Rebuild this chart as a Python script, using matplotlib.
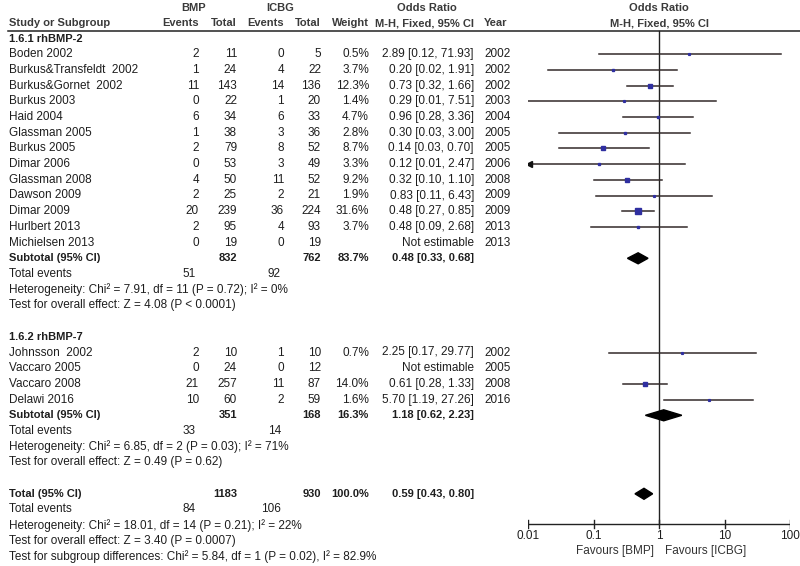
import matplotlib
matplotlib.use("Agg")
import matplotlib.pyplot as plt
import numpy as np

plt.rcParams['font.family'] = ['Liberation Sans', 'DejaVu Sans']

# ---- data ----
g1_names = ["Boden 2002", "Burkus&Transfeldt  2002", "Burkus&Gornet  2002", "Burkus 2003",
            "Haid 2004", "Glassman 2005", "Burkus 2005", "Dimar 2006", "Glassman 2008",
            "Dawson 2009", "Dimar 2009", "Hurlbert 2013", "Michielsen 2013"]
g1_ev_bmp = [2, 1, 11, 0, 6, 1, 2, 0, 4, 2, 20, 2, 0]
g1_tot_bmp = [11, 24, 143, 22, 34, 38, 79, 53, 50, 25, 239, 95, 19]
g1_ev_icbg = [0, 4, 14, 1, 6, 3, 8, 3, 11, 2, 36, 4, 0]
g1_tot_icbg = [5, 22, 136, 20, 33, 36, 52, 49, 52, 21, 224, 93, 19]
g1_weight = [0.5, 3.7, 12.3, 1.4, 4.7, 2.8, 8.7, 3.3, 9.2, 1.9, 31.6, 3.7, None]
g1_or = [2.89, 0.20, 0.73, 0.29, 0.96, 0.30, 0.14, 0.12, 0.32, 0.83, 0.48, 0.48, None]
g1_lo = [0.12, 0.02, 0.32, 0.01, 0.28, 0.03, 0.03, 0.01, 0.10, 0.11, 0.27, 0.09, None]
g1_hi = [71.93, 1.91, 1.66, 7.51, 3.36, 3.00, 0.70, 2.47, 1.10, 6.43, 0.85, 2.68, None]
g1_year = [2002, 2002, 2002, 2003, 2004, 2005, 2005, 2006, 2008, 2009, 2009, 2013, 2013]

g2_names = ["Johnsson  2002", "Vaccaro 2005", "Vaccaro 2008", "Delawi 2016"]
g2_ev_bmp = [2, 0, 21, 10]
g2_tot_bmp = [10, 24, 257, 60]
g2_ev_icbg = [1, 0, 11, 2]
g2_tot_icbg = [10, 12, 87, 59]
g2_weight = [0.7, None, 14.0, 1.6]
g2_or = [2.25, None, 0.61, 5.70]
g2_lo = [0.17, None, 0.28, 1.19]
g2_hi = [29.77, None, 1.33, 27.26]
g2_year = [2002, 2005, 2008, 2016]

# studies whose CI runs past the left end of the axis
off_scale_left = ["Dimar 2006"]

sub1 = dict(tot_bmp=832, tot_icbg=762, weight=83.7, est=0.48, lo=0.33, hi=0.68, ev_bmp=51, ev_icbg=92,
            het="Heterogeneity: Chi\u00b2 = 7.91, df = 11 (P = 0.72); I\u00b2 = 0%",
            test="Test for overall effect: Z = 4.08 (P < 0.0001)")
sub2 = dict(tot_bmp=351, tot_icbg=168, weight=16.3, est=1.18, lo=0.62, hi=2.23, ev_bmp=33, ev_icbg=14,
            het="Heterogeneity: Chi\u00b2 = 6.85, df = 2 (P = 0.03); I\u00b2 = 71%",
            test="Test for overall effect: Z = 0.49 (P = 0.62)")
total = dict(tot_bmp=1183, tot_icbg=930, weight=100.0, est=0.59, lo=0.43, hi=0.80, ev_bmp=84, ev_icbg=106,
             het="Heterogeneity: Chi\u00b2 = 18.01, df = 14 (P = 0.21); I\u00b2 = 22%",
             test="Test for overall effect: Z = 3.40 (P = 0.0007)")
subgroup_test = "Test for subgroup differences: Chi\u00b2 = 5.84, df = 1 (P = 0.02), I\u00b2 = 82.9%"

xticks = [0.01, 0.1, 1, 10, 100]
xtick_labels = ["0.01", "0.1", "1", "10", "100"]

# ---- layout (pixels) ----
W, H = 800, 566
Y0, DY = 38.5, 15.7
FS = 8.5
FSB = 8.0
TXT = "#1e1e1e"
HDR = "#3a3a3a"
X_NAME, X_EV1, X_TOT1, X_EV2, X_TOT2, X_W, X_OR, X_YEAR = 9, 199, 237, 284, 321, 369, 474, 484

def ry(i):
    return Y0 + i * DY

fig = plt.figure(figsize=(W / 100, H / 100), dpi=100)
ax = fig.add_axes([0, 0, 1, 1])
ax.set_xlim(0, W)
ax.set_ylim(H, 0)
ax.axis("off")

fp = fig.add_axes([528 / W, 0, (790 - 528) / W, 1])
fp.set_xscale("log")
fp.set_xlim(0.01, 100)
fp.set_ylim(H, 0)
fp.axis("off")


def t(x, y, s, ha="left", bold=False, color=TXT):
    ax.text(x, y, s, ha=ha, va="center", fontsize=FSB if bold else FS,
            fontweight="bold" if bold else "normal", color=color)


# header
t(194, 8, "BMP", ha="center", bold=True, color=HDR)
t(280, 8, "ICBG", ha="center", bold=True, color=HDR)
t(427, 8, "Odds Ratio", ha="center", bold=True, color=HDR)
fp.text(1, 8, "Odds Ratio", ha="center", va="center", fontsize=FSB, fontweight="bold", color=HDR)
t(X_NAME, 23, "Study or Subgroup", bold=True, color=HDR)
t(X_EV1, 23, "Events", ha="right", bold=True, color=HDR)
t(X_TOT1, 23, "Total", ha="right", bold=True, color=HDR)
t(X_EV2, 23, "Events", ha="right", bold=True, color=HDR)
t(X_TOT2, 23, "Total", ha="right", bold=True, color=HDR)
t(X_W, 23, "Weight", ha="right", bold=True, color=HDR)
t(X_OR, 23, "M-H, Fixed, 95% CI", ha="right", bold=True, color=HDR)
t(X_YEAR, 23, "Year", bold=True, color=HDR)
fp.text(1, 23, "M-H, Fixed, 95% CI", ha="center", va="center", fontsize=FSB, fontweight="bold", color=HDR)
ax.plot([8, 800], [31, 31], color="#222222", lw=1.1)


def study_rows(start, names, eb, tb, ei, ti, wts, ors, los, his, years):
    for k, name in enumerate(names):
        y = ry(start + k)
        t(X_NAME, y, name)
        t(X_EV1, y, str(eb[k]), ha="right")
        t(X_TOT1, y, str(tb[k]), ha="right")
        t(X_EV2, y, str(ei[k]), ha="right")
        t(X_TOT2, y, str(ti[k]), ha="right")
        t(X_YEAR, y, str(years[k]))
        if ors[k] is None:
            t(X_OR, y, "Not estimable", ha="right")
            continue
        t(X_W, y, f"{wts[k]:.1f}%", ha="right")
        t(X_OR, y, f"{ors[k]:.2f} [{los[k]:.2f}, {his[k]:.2f}]", ha="right")
        fp.plot([los[k], his[k]], [y, y], color="#332a2a", lw=1.1, zorder=2)
        side_px = max(1.8, 1.2 * np.sqrt(wts[k]))
        fp.plot(ors[k], y, marker="s", ms=side_px * 0.72, color="#2f2fa0", mec="#2f2fa0", zorder=3)
        if name in off_scale_left:
            fp.plot(0.0102, y, marker="<", ms=4, color="#111111", zorder=3)


def summary_rows(start, label, d):
    y = ry(start)
    t(X_NAME, y, label, bold=True)
    t(X_TOT1, y, str(d["tot_bmp"]), ha="right", bold=True)
    t(X_TOT2, y, str(d["tot_icbg"]), ha="right", bold=True)
    t(X_W, y, f"{d['weight']:.1f}%", ha="right", bold=True)
    t(X_OR, y, f"{d['est']:.2f} [{d['lo']:.2f}, {d['hi']:.2f}]", ha="right", bold=True)
    fp.fill([d["lo"], d["est"], d["hi"], d["est"]], [y, y - 5.5, y, y + 5.5],
            color="black", zorder=4)
    y = ry(start + 1)
    t(X_NAME, y, "Total events")
    t(X_EV1 - 3, y, str(d["ev_bmp"]), ha="right")
    t(X_EV2 - 3, y, str(d["ev_icbg"]), ha="right")
    t(X_NAME, ry(start + 2), d["het"])
    t(X_NAME, ry(start + 3), d["test"])


t(X_NAME, ry(0), "1.6.1 rhBMP-2", bold=True)
study_rows(1, g1_names, g1_ev_bmp, g1_tot_bmp, g1_ev_icbg, g1_tot_icbg,
           g1_weight, g1_or, g1_lo, g1_hi, g1_year)
summary_rows(1 + len(g1_names), "Subtotal (95% CI)", sub1)

s2 = len(g1_names) + 6
t(X_NAME, ry(s2), "1.6.2 rhBMP-7", bold=True)
study_rows(s2 + 1, g2_names, g2_ev_bmp, g2_tot_bmp, g2_ev_icbg, g2_tot_icbg,
           g2_weight, g2_or, g2_lo, g2_hi, g2_year)
summary_rows(s2 + 1 + len(g2_names), "Subtotal (95% CI)", sub2)

st = s2 + len(g2_names) + 6
summary_rows(st, "Total (95% CI)", total)
t(X_NAME, ry(st + 4), subgroup_test)

# forest axis
y_axis = 524
fp.plot([1, 1], [31, y_axis], color="#222222", lw=1.0, zorder=1)
fp.plot([xticks[0], xticks[-1]], [y_axis, y_axis], color="#222222", lw=1.0)
for xv, lab in zip(xticks, xtick_labels):
    fp.plot([xv, xv], [y_axis - 4, y_axis + 4], color="#222222", lw=1.0)
    fp.text(xv, y_axis + 12, lab, ha="center", va="center", fontsize=FS, color=TXT)
fp.text(0.84, y_axis + 27, "Favours [BMP]", ha="right", va="center", fontsize=FS, color="#333333")
fp.text(1.25, y_axis + 27, "Favours [ICBG]", ha="left", va="center", fontsize=FS, color="#333333")

fig.savefig("out.png", dpi=100)
